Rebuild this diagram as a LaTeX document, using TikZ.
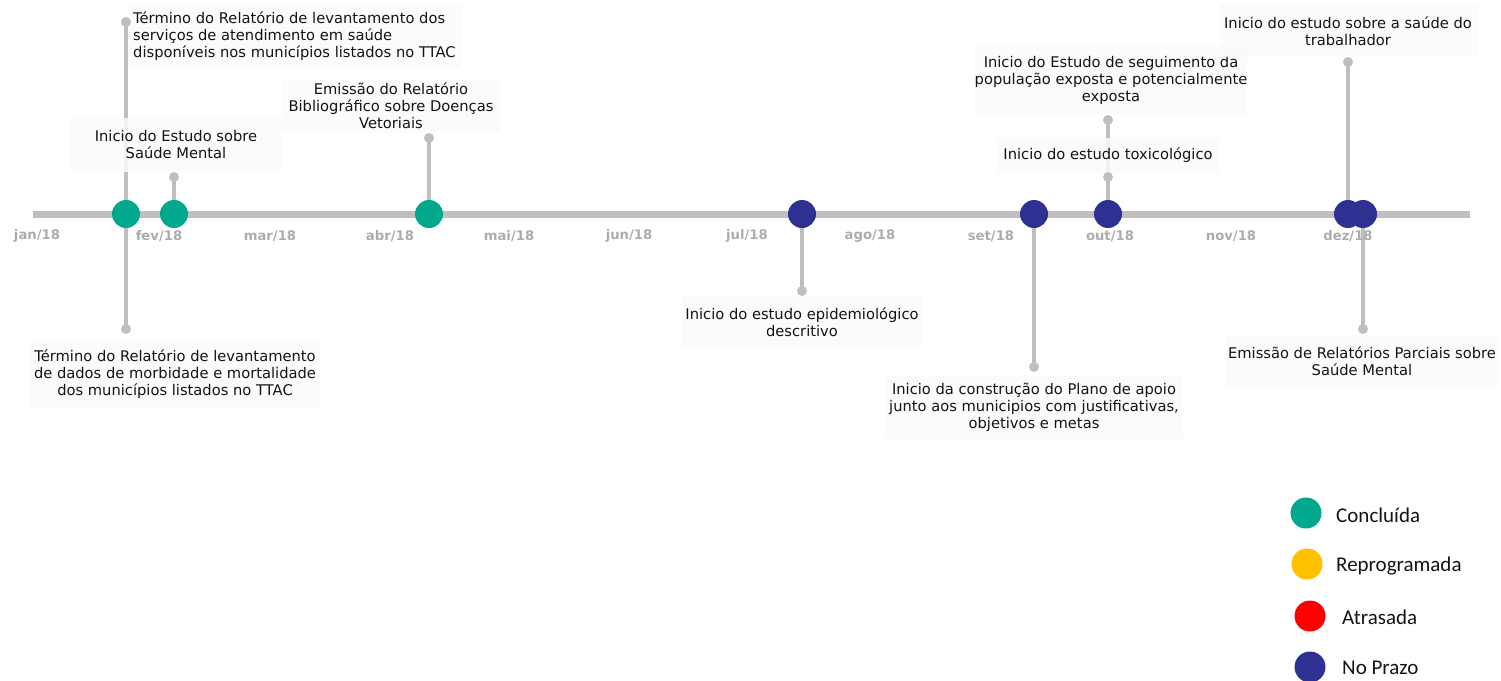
\documentclass[tikz,border=0pt]{standalone}
\usepackage{fontspec}
\setmainfont{DejaVu Sans}
\newfontfamily\legendfont{Carlito}
\definecolor{done}{RGB}{0,168,142}
\definecolor{onplan}{RGB}{46,49,146}
\definecolor{resched}{RGB}{255,192,0}
\definecolor{late}{RGB}{255,0,0}
\definecolor{axisgray}{RGB}{191,191,191}
\definecolor{monthgray}{RGB}{172,172,172}
\definecolor{boxfill}{RGB}{250,250,250}
\definecolor{inktext}{RGB}{20,20,20}
\pgfdeclarelayer{under}
\pgfdeclarelayer{middle}
\pgfsetlayers{under,middle,main}
\begin{document}
\begin{tikzpicture}[x=1pt,y=-1pt,
  event/.style={circle, minimum size=28pt, inner sep=0pt},
  enddot/.style={circle, fill=axisgray, minimum size=10pt, inner sep=0pt},
  stem/.style={draw=axisgray, line width=4pt},
  axisbar/.style={draw=axisgray, line width=7pt},
  note/.style={fill=boxfill, fill opacity=0.85, text opacity=1, text=inktext,
    align=center, inner sep=0pt, font=\fontsize{14.7}{17}\selectfont},
  month/.style={text=monthgray, font=\bfseries\fontsize{13.2}{15}\selectfont},
  legdot/.style={circle, minimum size=31pt, inner sep=0pt},
  legtext/.style={anchor=west, text=inktext, inner sep=0pt, font=\legendfont\fontsize{21}{24}\selectfont}]
\useasboundingbox (0,0) rectangle (1501,680);

% timeline axis
\coordinate (axisL) at (33,214);
\coordinate (axisR) at (1470,214);
\begin{pgfonlayer}{under}
\draw[axisbar] (axisL) -- (axisR);
\end{pgfonlayer}

% month labels
\node[month] (m01) at (37,236) {jan/18};
\node[month] (m02) at (159,236) {fev/18};
\node[month] (m03) at (270,236) {mar/18};
\node[month] (m04) at (390,236) {abr/18};
\node[month] (m05) at (509,236) {mai/18};
\node[month] (m06) at (629,236) {jun/18};
\node[month] (m07) at (747,236) {jul/18};
\node[month] (m08) at (870,236) {ago/18};
\node[month] (m09) at (991,236) {set/18};
\node[month] (m10) at (1110,236) {out/18};
\node[month] (m11) at (1231,236) {nov/18};
\node[month] (m12) at (1348,236) {dez/18};

% events on the axis
\node[event, fill=done]   (e1) at (126,214) {};
\node[event, fill=done]   (e2) at (174,214) {};
\node[event, fill=done]   (e3) at (429,214) {};
\node[event, fill=onplan] (e4) at (802,214) {};
\node[event, fill=onplan] (e5) at (1034,214) {};
\node[event, fill=onplan] (e6) at (1108,214) {};
\node[event, fill=onplan] (e7) at (1348,214) {};
\node[event, fill=onplan] (e8) at (1363,214) {};

% stem end points
\node[enddot] (d1a) at (126,22) {};
\node[enddot] (d1b) at (126,329) {};
\node[enddot] (d2) at (174,177) {};
\node[enddot] (d3) at (429,138) {};
\node[enddot] (d4) at (802,291) {};
\node[enddot] (d5) at (1034,367) {};
\node[enddot] (d6a) at (1108,177) {};
\node[enddot] (d6b) at (1108,120) {};
\node[enddot] (d7) at (1348,62) {};
\node[enddot] (d8) at (1363,329) {};

% stems
\begin{pgfonlayer}{under}
\draw[stem] (e1.center) -- (d1a.center);
\draw[stem] (e1.center) -- (d1b.center);
\draw[stem] (e2.center) -- (d2.center);
\draw[stem] (e3.center) -- (d3.center);
\draw[stem] (e4.center) -- (d4.center);
\draw[stem] (e5.center) -- (d5.center);
\draw[stem] (e6.center) -- (d6a.center);
\draw[stem] (d6a.center) -- (d6b.center);
\draw[stem] (e7.center) -- (d7.center);
\draw[stem] (e8.center) -- (d8.center);
\end{pgfonlayer}

% event descriptions
\begin{pgfonlayer}{middle}
\node[note, align=left, anchor=west, inner xsep=5pt, minimum height=63pt] (t1a) at (128,36)
  {Término do Relatório de levantamento dos\\serviços de atendimento em saúde\\disponíveis nos municípios listados no TTAC};
\node[note, minimum width=290pt, minimum height=68pt] (t1b) at (175,374)
  {Término do Relatório de levantamento\\de dados de morbidade e mortalidade\\dos municípios listados no TTAC};
\node[note, minimum width=212pt, minimum height=54pt] (t2) at (176,145)
  {Inicio do Estudo sobre\\Saúde Mental};
\node[note, minimum width=217pt, minimum height=53pt] (t3) at (391,106)
  {Emissão do Relatório\\Bibliográfico sobre Doenças\\Vetoriais};
\node[note, minimum width=240pt, minimum height=52pt] (t4) at (802,322)
  {Inicio do estudo epidemiológico\\descritivo};
\node[note, minimum width=298pt, minimum height=64pt] (t5) at (1034,407)
  {Inicio da construção do Plano de apoio\\junto aos municipios com justificativas,\\objetivos e metas};
\node[note, minimum width=222pt, minimum height=35pt] (t6a) at (1108,155)
  {Inicio do estudo toxicológico};
\node[note, minimum width=272pt, minimum height=68pt] (t6b) at (1111,80)
  {Inicio do Estudo de seguimento da\\população exposta e potencialmente\\exposta};
\node[note, minimum width=257pt, minimum height=52pt] (t7) at (1348,31)
  {Inicio do estudo sobre a saúde do\\trabalhador};
\node[note, minimum width=273pt, minimum height=52pt] (t8) at (1362,361)
  {Emissão de Relatórios Parciais sobre\\Saúde Mental};
\end{pgfonlayer}

% legend
\node[legdot, fill=done]    (l1) at (1306,513) {};
\node[legdot, fill=resched] (l2) at (1307,564) {};
\node[legdot, fill=late]    (l3) at (1310,616) {};
\node[legdot, fill=onplan]  (l4) at (1310,667) {};
\node[legtext] (lt1) at (1336,515) {Concluída};
\node[legtext] (lt2) at (1336,566) {Reprogramada};
\node[legtext] (lt3) at (1342,617) {Atrasada};
\node[legtext] (lt4) at (1342,668) {No Prazo};
\end{tikzpicture}
\end{document}
